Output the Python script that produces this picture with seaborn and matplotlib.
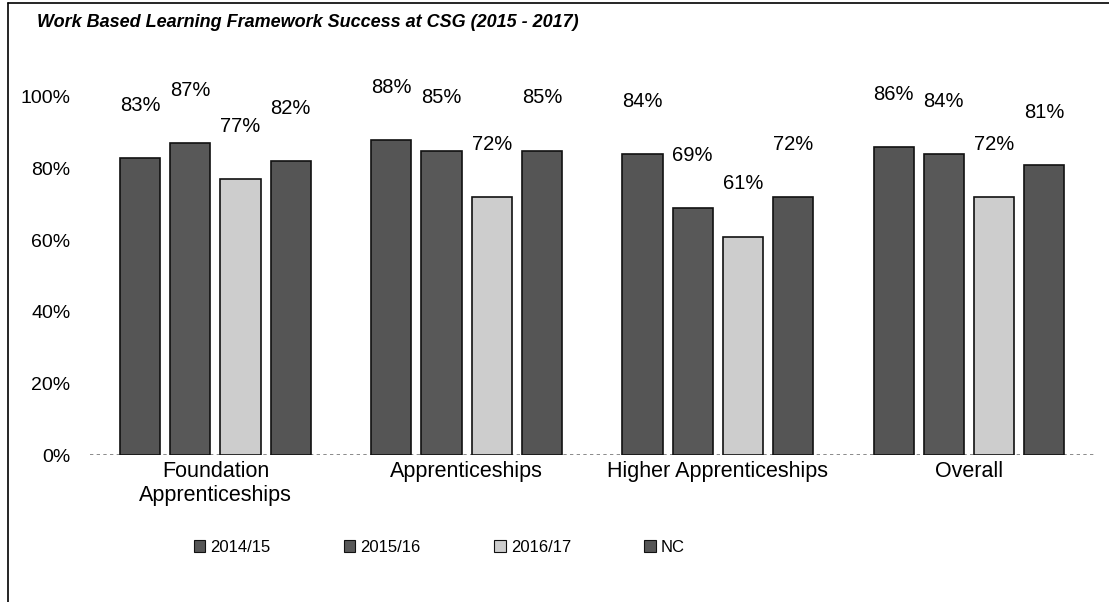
import matplotlib
matplotlib.use("Agg")
import matplotlib.pyplot as plt
from matplotlib.patches import Patch
from matplotlib.lines import Line2D
import seaborn as sns
import pandas as pd

categories = ["Foundation\nApprenticeships", "Apprenticeships", "Higher Apprenticeships", "Overall"]
years = ["2014/15", "2015/16", "2016/17", "NC"]
v_1415 = [83, 88, 84, 86]
v_1516 = [87, 85, 69, 84]
v_1617 = [77, 72, 61, 72]
v_nc = [82, 85, 72, 81]
yticks = [0, 20, 40, 60, 80, 100]

series = {"2014/15": v_1415, "2015/16": v_1516, "2016/17": v_1617, "NC": v_nc}
rows = []
for y in years:
    for c, v in zip(categories, series[y]):
        rows.append({"cat": c, "year": y, "val": v})
df = pd.DataFrame(rows)

sns.set_theme(style="white")
plt.rcParams["font.family"] = ["Liberation Sans", "DejaVu Sans"]
plt.rcParams["text.color"] = "black"
plt.rcParams["xtick.color"] = "black"
plt.rcParams["ytick.color"] = "black"

palette = {"2014/15": "#555555", "2015/16": "#585858", "2016/17": "#cdcdcd", "NC": "#555555"}

fig = plt.figure(figsize=(11.09, 6.02), dpi=100)
ax = fig.add_axes([0.081, 0.244, 0.906, 0.595])
sns.barplot(data=df, x="cat", y="val", hue="year", hue_order=years, order=categories,
            palette=palette, gap=0.2, width=0.8, edgecolor="#111111", linewidth=1.2,
            legend=False, ax=ax)

ax.set_ylim(0, 100)
ax.set_yticks(yticks)
ax.set_yticklabels([f"{t}%" for t in yticks], fontsize=14)
ax.tick_params(axis="y", length=0, pad=14)
ax.tick_params(axis="x", length=0, pad=4, labelsize=15.5)
ax.set_xlabel("")
ax.set_ylabel("")
for s in ax.spines.values():
    s.set_visible(False)
ax.axhline(0, color="#777777", lw=1.2, ls=(0, (2, 2)), zorder=0)

for cont in ax.containers:
    for bar in cont:
        h = bar.get_height()
        ax.annotate(f"{h:.0f}%", (bar.get_x() + bar.get_width() / 2, h),
                    xytext=(0, 38), textcoords="offset points", ha="center", va="center",
                    fontsize=14.5, annotation_clip=False)

fig.text(0.033, 0.963, "Work Based Learning Framework Success at CSG (2015 - 2017)",
         fontsize=13, fontweight="bold", fontstyle="italic", va="center", ha="left")

handles = [Patch(facecolor=palette[y], edgecolor="#111111", linewidth=0.8) for y in years]
fig.legend(handles, years, loc="center left", bbox_to_anchor=(0.161, 0.091), ncol=4,
           frameon=False, fontsize=12, handlelength=0.7, handleheight=0.7, handletextpad=0.3,
           columnspacing=4.4)

fig.add_artist(Line2D([0.007, 0.007], [0, 0.995], color="black", lw=1.2, transform=fig.transFigure))
fig.add_artist(Line2D([0.007, 1.0], [0.995, 0.995], color="black", lw=1.2, transform=fig.transFigure))

fig.savefig("out.png", dpi=100)
